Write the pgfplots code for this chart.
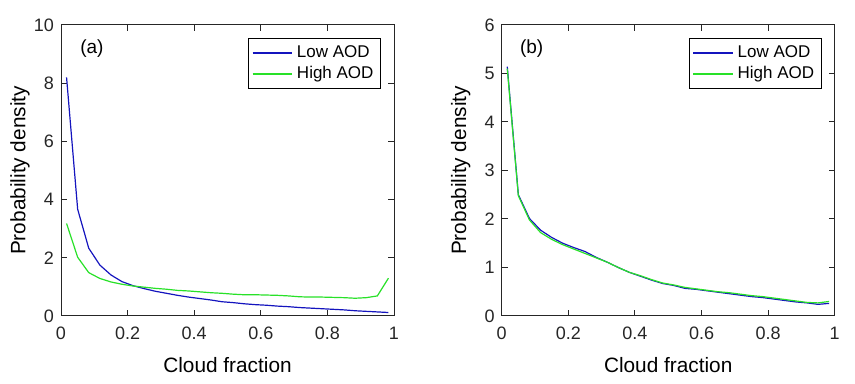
\documentclass[border=0pt]{standalone}
\usepackage{pgfplots}
\pgfplotsset{compat=1.18}
\usepackage{fontspec}
\setmainfont{Liberation Sans}
\definecolor{lowc}{RGB}{20,20,190}
\definecolor{highc}{RGB}{40,225,40}
\definecolor{axc}{RGB}{38,38,38}
\pgfplotsset{
  mystyle/.style={
    scale only axis, width=166.5pt, height=145.5pt,
    xmin=0, xmax=1, ymin=0,
    xtick={0,0.2,0.4,0.6,0.8,1},
    xticklabels={0,0.2,0.4,0.6,0.8,1},
    tick align=inside, tick pos=both,
    major tick length=3pt,
    axis line style={axc, line width=0.5pt},
    every tick/.style={axc, line width=0.5pt},
    /pgf/number format/assume math mode=true,
    tick label style={font=\fontsize{9}{10}\selectfont, text=axc},
    xticklabel style={yshift=-2pt},
    xlabel={Cloud fraction},
    ylabel={Probability density},
    label style={font=\fontsize{10.4}{12}\selectfont, text=black},
    xlabel style={at={(axis description cs:0.5,-0.168)}, anchor=center},
    ylabel style={at={(axis description cs:-0.123,0.5)}, anchor=center},
    legend style={at={(rel axis cs:1,1)}, anchor=north east, xshift=-6.5pt, yshift=-6.5pt,
      font=\fontsize{8.5}{10}\selectfont, draw=black, line width=0.5pt,
      inner sep=1.5pt, row sep=-1pt, cells={anchor=west}},
    legend image post style={line width=0.6pt},
    legend image code/.code={\draw[##1] (0cm,0cm) -- (0.7cm,0cm);},
    every axis plot/.append style={line width=0.6pt},
  }
}
\begin{document}
\begin{tikzpicture}
\useasboundingbox (0,0) rectangle (427.5pt,192pt);
\begin{axis}[mystyle, at={(30.5pt,34pt)}, anchor=south west, ymax=10,
  ytick={0,2,4,6,8,10}]
\addplot[lowc] coordinates {
(0.0167,8.2) (0.05,3.67) (0.0833,2.33) (0.1167,1.75) (0.15,1.41) (0.1833,1.18)
(0.2167,1.04) (0.25,0.94) (0.2833,0.85) (0.3167,0.78) (0.35,0.71) (0.3833,0.65)
(0.4167,0.60) (0.45,0.55) (0.4833,0.49) (0.5167,0.46) (0.55,0.42) (0.5833,0.39)
(0.6167,0.37) (0.65,0.34) (0.6833,0.32) (0.7167,0.29) (0.75,0.27) (0.7833,0.25)
(0.8167,0.23) (0.85,0.21) (0.8833,0.18) (0.9167,0.16) (0.95,0.14) (0.9833,0.12)};
\addlegendentry{Low AOD}
\addplot[highc] coordinates {
(0.0167,3.18) (0.05,2.02) (0.0833,1.49) (0.1167,1.29) (0.15,1.17) (0.1833,1.09)
(0.2167,1.03) (0.25,0.99) (0.2833,0.95) (0.3167,0.92) (0.35,0.88) (0.3833,0.86)
(0.4167,0.83) (0.45,0.80) (0.4833,0.78) (0.5167,0.75) (0.55,0.73) (0.5833,0.73)
(0.6167,0.72) (0.65,0.71) (0.6833,0.69) (0.7167,0.66) (0.75,0.65) (0.7833,0.65)
(0.8167,0.64) (0.85,0.63) (0.8833,0.61) (0.9167,0.63) (0.95,0.69) (0.9833,1.30)};
\addlegendentry{High AOD}
\node[font=\fontsize{9.5}{11}\selectfont] at (axis cs:0.093,9.2) {(a)};
\end{axis}
\begin{axis}[mystyle, at={(250.85pt,34pt)}, anchor=south west, ymax=6,
  ytick={0,1,2,3,4,5,6}]
\addplot[lowc] coordinates {
(0.0167,5.14) (0.05,2.50) (0.0833,2.01) (0.1167,1.77) (0.15,1.62) (0.1833,1.50)
(0.2167,1.41) (0.25,1.33) (0.2833,1.21) (0.3167,1.11) (0.35,1.00) (0.3833,0.90)
(0.4167,0.82) (0.45,0.74) (0.4833,0.67) (0.5167,0.63) (0.55,0.57) (0.5833,0.55)
(0.6167,0.52) (0.65,0.49) (0.6833,0.46) (0.7167,0.43) (0.75,0.40) (0.7833,0.38)
(0.8167,0.35) (0.85,0.32) (0.8833,0.29) (0.9167,0.27) (0.95,0.24) (0.9833,0.26)};
\addlegendentry{Low AOD}
\addplot[highc] coordinates {
(0.0167,5.10) (0.05,2.48) (0.0833,1.98) (0.1167,1.72) (0.15,1.58) (0.1833,1.47)
(0.2167,1.38) (0.25,1.29) (0.2833,1.20) (0.3167,1.11) (0.35,1.00) (0.3833,0.90)
(0.4167,0.83) (0.45,0.75) (0.4833,0.68) (0.5167,0.64) (0.55,0.59) (0.5833,0.56)
(0.6167,0.53) (0.65,0.50) (0.6833,0.48) (0.7167,0.45) (0.75,0.42) (0.7833,0.40)
(0.8167,0.37) (0.85,0.34) (0.8833,0.31) (0.9167,0.28) (0.95,0.27) (0.9833,0.30)};
\addlegendentry{High AOD}
\node[font=\fontsize{9.5}{11}\selectfont] at (axis cs:0.09,5.52) {(b)};
\end{axis}
\end{tikzpicture}
\end{document}
